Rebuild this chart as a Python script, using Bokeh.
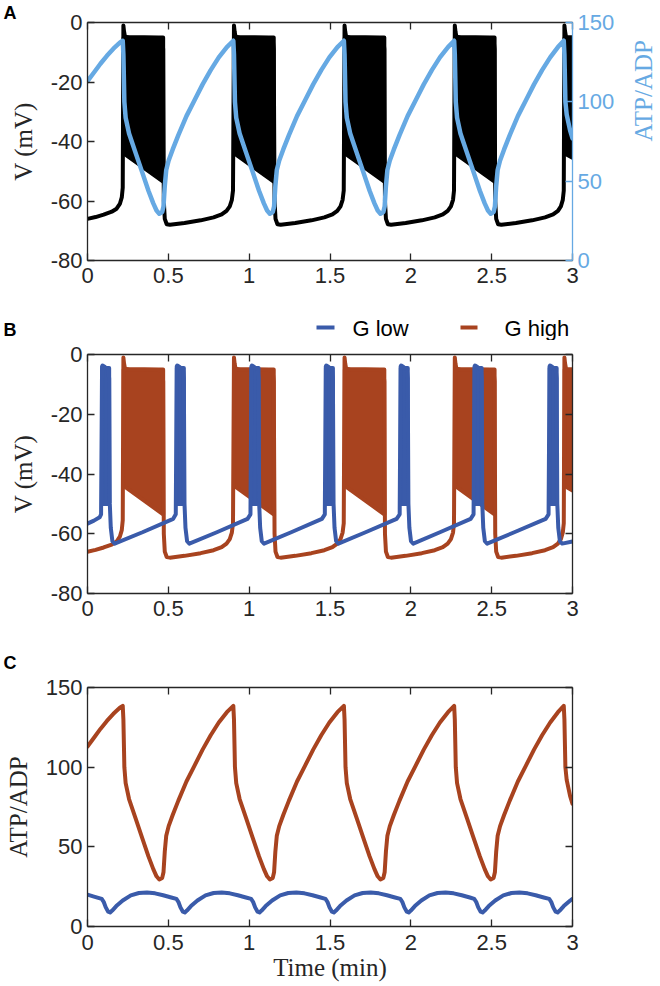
import math
from bokeh.plotting import figure
from bokeh.models import (Range1d, LinearAxis, FixedTicker, CustomJSTickFormatter, Title)
from bokeh.layouts import column
from bokeh.core.properties import value
from bokeh.embed import file_html
from bokeh.resources import INLINE

# ---------------- data ----------------
x_ticks = [0, 0.5, 1, 1.5, 2, 2.5, 3]
v_ticks = [-80, -60, -40, -20, 0]
atp_ticks = [0, 50, 100, 150]
panel_letters = ["A", "B", "C"]
legend_labels = ["G low", "G high"]

# membrane potential, G high (line follows upper envelope during bursts)
t_vh = [0.000, 0.050, 0.100, 0.150, 0.180, 0.200, 0.212, 0.218,
        0.222, 0.226, 0.232, 0.260, 0.350, 0.440, 0.462, 0.468,
        0.472, 0.478, 0.490, 0.510, 0.600, 0.700, 0.780, 0.830, 0.860, 0.880, 0.893, 0.900,
        0.906, 0.910, 0.916, 0.944, 1.034, 1.124, 1.146, 1.152,
        1.157, 1.163, 1.175, 1.195, 1.285, 1.385, 1.465, 1.515, 1.545, 1.565, 1.578, 1.585,
        1.590, 1.594, 1.600, 1.628, 1.718, 1.808, 1.830, 1.836,
        1.840, 1.846, 1.858, 1.878, 1.968, 2.068, 2.148, 2.198, 2.228, 2.248, 2.261, 2.267,
        2.272, 2.276, 2.282, 2.310, 2.400, 2.490, 2.512, 2.518,
        2.522, 2.528, 2.540, 2.560, 2.650, 2.750, 2.830, 2.880, 2.910, 2.928, 2.940, 2.946,
        2.950, 2.954, 2.960, 2.985, 3.000]
v_vh = [-66.0, -65.4, -64.6, -63.6, -62.6, -61.0, -58.8, -55.5,
        -1.0, -3.0, -4.8, -5.0, -5.0, -5.2, -5.8, -9.0,
        -60.0, -66.0, -67.8, -68.0, -67.4, -66.5, -65.5, -64.5, -63.3, -61.8, -59.6, -56.5,
        -1.0, -3.0, -4.8, -5.0, -5.0, -5.2, -5.8, -9.0,
        -60.0, -66.0, -67.8, -68.0, -67.4, -66.5, -65.5, -64.5, -63.3, -61.8, -59.6, -56.5,
        -1.0, -3.0, -4.8, -5.0, -5.0, -5.2, -5.8, -9.0,
        -60.0, -66.0, -67.8, -68.0, -67.4, -66.5, -65.5, -64.5, -63.3, -61.8, -59.6, -56.5,
        -1.0, -3.0, -4.8, -5.0, -5.0, -5.2, -5.8, -9.0,
        -60.0, -66.0, -67.8, -68.0, -67.4, -66.5, -65.5, -64.5, -63.3, -61.8, -59.6, -56.5,
        -1.0, -3.0, -4.8, -5.0, -5.0]

# burst bands (dense spiking), G high
bh_start = [0.224, 0.908, 1.592, 2.274, 2.952]
bh_end = [0.468, 1.152, 1.836, 2.518, 3.000]
bh_low_start = [-44.0, -44.0, -44.0, -44.0, -44.0]
bh_low_end = [-53.5, -53.5, -53.5, -53.5, -45.5]
bh_top = [-5.0, -5.0, -5.0, -5.0, -5.0]

# membrane potential, G low
t_vl = [0.000, 0.040, 0.075, 0.084,
        0.090, 0.093, 0.108, 0.128, 0.134, 0.138, 0.144, 0.154, 0.168, 0.340, 0.530, 0.546,
        0.552, 0.555, 0.570, 0.590, 0.596, 0.600, 0.606, 0.616, 0.630, 0.800, 0.990, 1.008,
        1.014, 1.017, 1.032, 1.052, 1.058, 1.062, 1.068, 1.078, 1.092, 1.260, 1.450, 1.468,
        1.474, 1.477, 1.492, 1.512, 1.518, 1.522, 1.528, 1.538, 1.552, 1.720, 1.912, 1.931,
        1.937, 1.940, 1.955, 1.975, 1.981, 1.985, 1.991, 2.001, 2.015, 2.180, 2.370, 2.388,
        2.394, 2.397, 2.412, 2.432, 2.438, 2.442, 2.448, 2.458, 2.472, 2.640, 2.834, 2.852,
        2.858, 2.861, 2.876, 2.896, 2.902, 2.906, 2.912, 2.922, 2.936, 3.000]
v_vl = [-56.6, -55.6, -54.5, -53.5,
        -4.0, -3.7, -4.2, -5.0, -8.0, -50.0, -58.0, -62.5, -63.3, -59.5, -55.0, -53.5,
        -4.0, -3.7, -4.2, -5.0, -8.0, -50.0, -58.0, -62.5, -63.3, -59.5, -55.0, -53.5,
        -4.0, -3.7, -4.2, -5.0, -8.0, -50.0, -58.0, -62.5, -63.3, -59.5, -55.0, -53.5,
        -4.0, -3.7, -4.2, -5.0, -8.0, -50.0, -58.0, -62.5, -63.3, -59.5, -55.0, -53.5,
        -4.0, -3.7, -4.2, -5.0, -8.0, -50.0, -58.0, -62.5, -63.3, -59.5, -55.0, -53.5,
        -4.0, -3.7, -4.2, -5.0, -8.0, -50.0, -58.0, -62.5, -63.3, -59.5, -55.0, -53.5,
        -4.0, -3.7, -4.2, -5.0, -8.0, -50.0, -58.0, -62.5, -63.3, -62.6]

# burst bands, G low
bl_start = [0.091, 0.553, 1.015, 1.475, 1.938, 2.395, 2.859]
bl_end = [0.134, 0.596, 1.058, 1.518, 1.981, 2.438, 2.902]
bl_low = [-50.0, -50.0, -50.0, -50.0, -50.0, -50.0, -50.0]
bl_top = [-4.5, -4.5, -4.5, -4.5, -4.5, -4.5, -4.5]

# ATP/ADP, G high
t_ah = [0.000, 0.040, 0.080, 0.120, 0.160, 0.200, 0.218,
        0.222, 0.228, 0.236, 0.257, 0.297, 0.337, 0.377, 0.407, 0.427, 0.444, 0.462, 0.470,
        0.478, 0.487, 0.502, 0.527, 0.562, 0.612, 0.662, 0.712, 0.762, 0.812, 0.862, 0.902,
        0.906, 0.912, 0.920, 0.941, 0.981, 1.021, 1.061, 1.091, 1.111, 1.128, 1.146, 1.154,
        1.162, 1.171, 1.186, 1.211, 1.246, 1.296, 1.346, 1.396, 1.446, 1.496, 1.546, 1.586,
        1.590, 1.596, 1.604, 1.625, 1.665, 1.705, 1.745, 1.775, 1.795, 1.812, 1.830, 1.838,
        1.846, 1.855, 1.870, 1.895, 1.930, 1.980, 2.030, 2.080, 2.130, 2.180, 2.230, 2.268,
        2.272, 2.278, 2.286, 2.307, 2.347, 2.387, 2.427, 2.457, 2.477, 2.494, 2.512, 2.520,
        2.528, 2.537, 2.552, 2.577, 2.612, 2.662, 2.712, 2.762, 2.812, 2.862, 2.910, 2.946,
        2.950, 2.956, 2.964, 2.985, 3.000]
a_ah = [113.0, 118.5, 124.0, 129.0, 133.5, 137.3, 138.5,
        130.0, 100.0, 90.0, 80.0, 68.0, 56.0, 44.0, 36.0, 31.5, 29.5, 30.5, 34.0,
        47.0, 57.0, 63.0, 70.0, 79.0, 91.0, 101.0, 111.0, 120.0, 128.0, 134.5, 138.5,
        130.0, 100.0, 90.0, 80.0, 68.0, 56.0, 44.0, 36.0, 31.5, 29.5, 30.5, 34.0,
        47.0, 57.0, 63.0, 70.0, 79.0, 91.0, 101.0, 111.0, 120.0, 128.0, 134.5, 138.5,
        130.0, 100.0, 90.0, 80.0, 68.0, 56.0, 44.0, 36.0, 31.5, 29.5, 30.5, 34.0,
        47.0, 57.0, 63.0, 70.0, 79.0, 91.0, 101.0, 111.0, 120.0, 128.0, 134.5, 138.5,
        130.0, 100.0, 90.0, 80.0, 68.0, 56.0, 44.0, 36.0, 31.5, 29.5, 30.5, 34.0,
        47.0, 57.0, 63.0, 70.0, 79.0, 91.0, 101.0, 111.0, 120.0, 128.0, 134.5, 138.5,
        130.0, 100.0, 92.0, 82.0, 77.0]

# ATP/ADP, G low
t_al = [0.000, 0.040,
        0.088, 0.100, 0.113, 0.128, 0.140, 0.153, 0.178, 0.218, 0.268, 0.318, 0.368, 0.418, 0.468, 0.518,
        0.550, 0.562, 0.575, 0.590, 0.602, 0.615, 0.640, 0.680, 0.730, 0.780, 0.830, 0.880, 0.930, 0.980,
        1.012, 1.024, 1.037, 1.052, 1.064, 1.077, 1.102, 1.142, 1.192, 1.242, 1.292, 1.342, 1.392, 1.442,
        1.472, 1.484, 1.497, 1.512, 1.524, 1.537, 1.562, 1.602, 1.652, 1.702, 1.752, 1.802, 1.852, 1.902,
        1.935, 1.947, 1.960, 1.975, 1.987, 2.000, 2.025, 2.065, 2.115, 2.165, 2.215, 2.265, 2.315, 2.365,
        2.392, 2.404, 2.417, 2.432, 2.444, 2.457, 2.482, 2.522, 2.572, 2.622, 2.672, 2.722, 2.772, 2.822,
        2.856, 2.868, 2.881, 2.896, 2.908, 2.921, 2.946, 2.986, 3.000]
a_al = [20.0, 18.8,
        17.3, 15.5, 12.0, 9.3, 8.8, 10.0, 12.8, 16.3, 19.5, 21.0, 21.4, 20.8, 19.6, 18.2,
        17.3, 15.5, 12.0, 9.3, 8.8, 10.0, 12.8, 16.3, 19.5, 21.0, 21.4, 20.8, 19.6, 18.2,
        17.3, 15.5, 12.0, 9.3, 8.8, 10.0, 12.8, 16.3, 19.5, 21.0, 21.4, 20.8, 19.6, 18.2,
        17.3, 15.5, 12.0, 9.3, 8.8, 10.0, 12.8, 16.3, 19.5, 21.0, 21.4, 20.8, 19.6, 18.2,
        17.3, 15.5, 12.0, 9.3, 8.8, 10.0, 12.8, 16.3, 19.5, 21.0, 21.4, 20.8, 19.6, 18.2,
        17.3, 15.5, 12.0, 9.3, 8.8, 10.0, 12.8, 16.3, 19.5, 21.0, 21.4, 20.8, 19.6, 18.2,
        17.3, 15.5, 12.0, 9.3, 8.8, 10.0, 12.8, 16.3, 17.4]

assert len(t_vh) == len(v_vh)
assert len(t_vl) == len(v_vl)
assert len(t_ah) == len(a_ah)
assert len(t_al) == len(a_al)

# ---------------- style ----------------
AXIS = "#262626"
BLACK = "#000000"
LIGHT_BLUE = "#66A9E3"
BLUE = "#3A5BAA"
RED = "#A8431F"
SANS = "Liberation Sans"
SERIF = "Liberation Serif"
TICK_FS = "22px"
LABEL_FS = "25px"
LETTER_FS = "18px"
LW = 4
PAGE_W = 660


def style_axis(ax, ticks, color=AXIS, labels=True):
    ax.ticker = FixedTicker(ticks=ticks)
    ax.formatter = CustomJSTickFormatter(code="return String(tick);")
    ax.axis_line_color = color
    ax.axis_line_width = 1.3
    ax.major_tick_line_color = color
    ax.major_tick_line_width = 1.3
    ax.major_tick_in = 7
    ax.major_tick_out = 0
    ax.minor_tick_line_color = None
    ax.major_label_text_font = SANS
    ax.major_label_text_color = color
    if labels:
        ax.major_label_text_font_size = TICK_FS
        ax.major_label_standoff = 5
    else:
        ax.major_label_text_font_size = "0px"
        ax.major_label_text_alpha = 0
        ax.major_label_standoff = 0
    ax.axis_label_text_font = SERIF
    ax.axis_label_text_font_size = LABEL_FS
    ax.axis_label_text_font_style = "normal"
    ax.axis_label_text_color = color


def make_fig(frame_h, top, bottom, right, y0, y1):
    p = figure(frame_width=485, frame_height=frame_h,
               x_range=Range1d(0, 3), y_range=Range1d(y0, y1),
               output_backend="svg", toolbar_location=None,
               min_border_left=87, min_border_right=right,
               min_border_top=top, min_border_bottom=bottom)
    p.outline_line_color = None
    p.xgrid.visible = False
    p.ygrid.visible = False
    p.background_fill_color = "white"
    p.border_fill_color = "white"
    return p


def add_mirror(p, ticks_x, ticks_y, right=True):
    top_ax = LinearAxis()
    style_axis(top_ax, ticks_x, labels=False)
    p.add_layout(top_ax, "above")
    if right:
        r_ax = LinearAxis()
        style_axis(r_ax, ticks_y, labels=False)
        p.add_layout(r_ax, "right")


def make_strip(height):
    s = figure(width=PAGE_W, height=height, x_range=Range1d(0, PAGE_W),
               y_range=Range1d(height, 0), output_backend="svg",
               toolbar_location=None, min_border=0,
               x_axis_location=None, y_axis_location=None)
    try:
        s.frame_align = False
    except Exception:
        pass
    s.outline_line_color = None
    s.xgrid.visible = False
    s.ygrid.visible = False
    s.background_fill_color = "white"
    s.border_fill_color = "white"
    return s


def letter(s, text, x, y):
    s.text(x=[x], y=[y], text=[text], text_font=value(SANS), text_font_size=LETTER_FS,
           text_font_style="bold", text_color="black",
           text_baseline="middle", text_align="left")


# ---------------- panel A ----------------
pa = make_fig(238, 22, 40, 88, -80, 0)
style_axis(pa.xaxis[0], x_ticks)
pa.xaxis[0].major_label_standoff = 7
style_axis(pa.yaxis[0], v_ticks)
pa.yaxis[0].axis_label = "V (mV)"
pa.yaxis[0].axis_label_standoff = 11
pa.extra_y_ranges = {"atp": Range1d(0, 150)}
add_mirror(pa, x_ticks, v_ticks, right=False)
ra = LinearAxis(y_range_name="atp")
style_axis(ra, atp_ticks, color=LIGHT_BLUE)
ra.axis_label = "ATP/ADP"
ra.axis_label_standoff = 26
try:
    ra.axis_label_orientation = math.pi / 2
except Exception:
    pass
pa.add_layout(ra, "right")

pa.title = Title(text=panel_letters[0], align="left", offset=-84, standoff=0,
                 text_font=SANS, text_font_size=LETTER_FS, text_font_style="bold",
                 text_color="black")

pa.patches(xs=[[s, e, e, s] for s, e in zip(bh_start, bh_end)],
           ys=[[a, b, c, c] for a, b, c in zip(bh_low_start, bh_low_end, bh_top)],
           fill_color=BLACK, line_color=BLACK, line_width=LW, line_join="round")
pa.line(t_vh, v_vh, line_color=BLACK, line_width=LW, line_join="round", line_cap="round")
pa.line(t_ah, a_ah, y_range_name="atp", line_color=LIGHT_BLUE, line_width=LW + 0.5,
        line_join="round", line_cap="round")

# ---------------- strip with "B" and legend ----------------
sb = make_strip(40)
letter(sb, panel_letters[1], 3, 29.5)
sb.segment(x0=[316, 460], y0=[27, 27], x1=[334, 477], y1=[27, 27],
           line_color=[BLUE, RED], line_width=4)
sb.text(x=[352, 504], y=[28, 28], text=legend_labels, text_font=value(SANS),
        text_font_size="22px", text_color="black", text_baseline="middle",
        text_align="left")

# ---------------- panel B ----------------
pb = make_fig(239, 14, 40, 12, -80, 0)
style_axis(pb.xaxis[0], x_ticks)
pb.xaxis[0].major_label_standoff = 7
style_axis(pb.yaxis[0], v_ticks)
pb.yaxis[0].axis_label = "V (mV)"
pb.yaxis[0].axis_label_standoff = 11
add_mirror(pb, x_ticks, v_ticks)

pb.patches(xs=[[s, e, e, s] for s, e in zip(bh_start, bh_end)],
           ys=[[a, b, c, c] for a, b, c in zip(bh_low_start, bh_low_end, bh_top)],
           fill_color=RED, line_color=RED, line_width=LW, line_join="round")
pb.line(t_vh, v_vh, line_color=RED, line_width=LW, line_join="round", line_cap="round")
pb.patches(xs=[[s, e, e, s] for s, e in zip(bl_start, bl_end)],
           ys=[[lo, lo, tp, tp] for lo, tp in zip(bl_low, bl_top)],
           fill_color=BLUE, line_color=BLUE, line_width=LW, line_join="round")
pb.line(t_vl, v_vl, line_color=BLUE, line_width=LW, line_join="round", line_cap="round")

# ---------------- strip with "C" ----------------
sc = make_strip(40)
letter(sc, panel_letters[2], 3, 29)

# ---------------- panel C ----------------
pc = make_fig(239, 14, 59, 12, 0, 150)
style_axis(pc.xaxis[0], x_ticks)
pc.xaxis[0].major_label_standoff = 8
pc.xaxis[0].axis_label = "Time (min)"
pc.xaxis[0].axis_label_standoff = 1
style_axis(pc.yaxis[0], atp_ticks)
pc.yaxis[0].axis_label = "ATP/ADP"
pc.yaxis[0].axis_label_standoff = 11
add_mirror(pc, x_ticks, atp_ticks)

pc.line(t_ah, a_ah, line_color=RED, line_width=LW, line_join="round", line_cap="round")
pc.line(t_al, a_al, line_color=BLUE, line_width=LW, line_join="round", line_cap="round")

layout = column(pa, sb, pb, sc, pc, spacing=0)
open("out.html", "w").write(file_html(layout, INLINE))
